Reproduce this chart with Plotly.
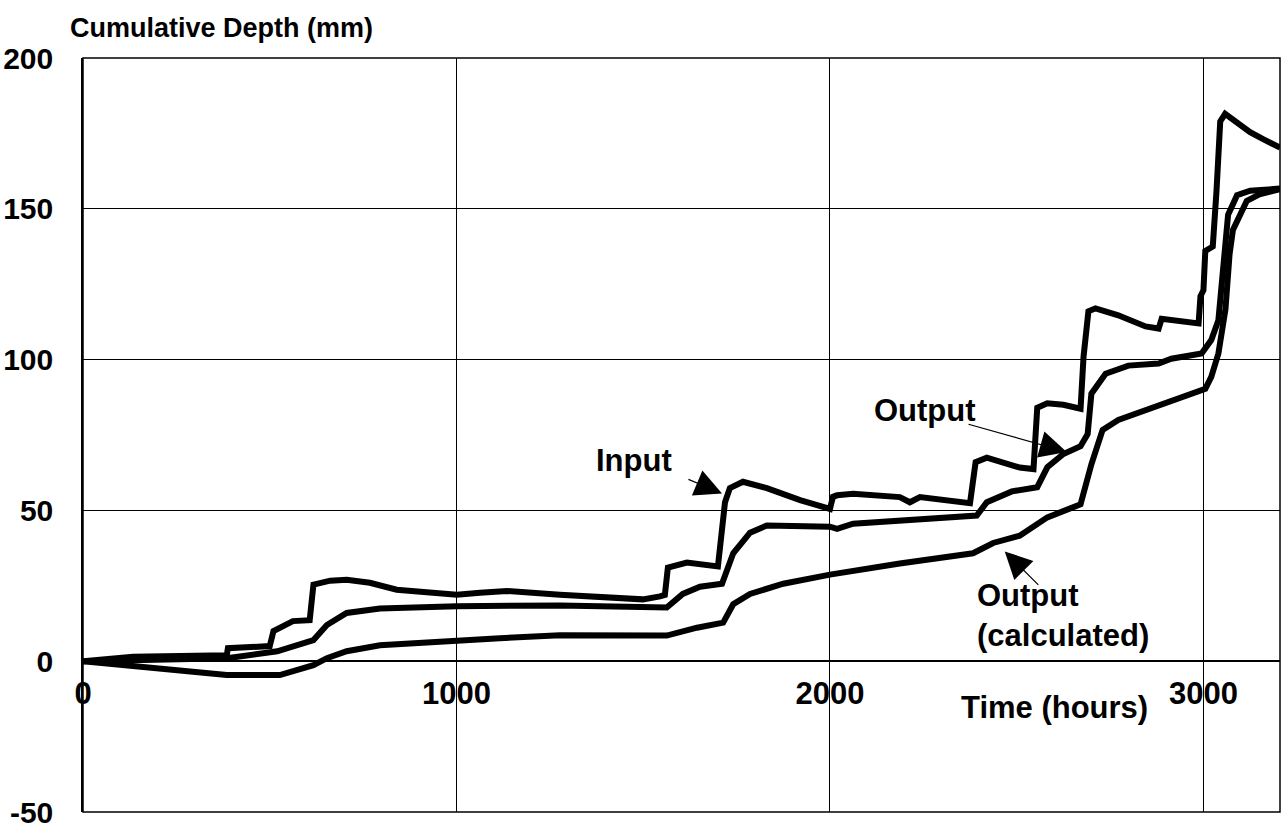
import plotly.graph_objects as go

# ---- data (hours, mm) ----
input_t = [0, 134, 385, 388, 500, 510, 562, 607, 617, 662, 706, 768, 840, 930, 1001, 1063,
           1116, 1135, 1277, 1499, 1545, 1558, 1566, 1617, 1700, 1719, 1732, 1767, 1831, 1920,
           2000, 2008, 2019, 2062, 2187, 2214, 2241, 2375, 2390, 2420, 2508, 2545, 2555, 2582,
           2625, 2671, 2679, 2692, 2711, 2772, 2845, 2880, 2888, 2987, 2992, 3000, 3005, 3025,
           3035, 3045, 3058, 3089, 3125, 3161, 3205]
input_mm = [0, 1.5, 2, 4.3, 5, 10, 13.3, 13.6, 25.4, 26.7, 27, 26, 23.7, 22.7, 22, 22.7,
            23.3, 23.3, 22, 20.5, 21.5, 22, 31, 32.7, 31.4, 52.7, 57.4, 59.5, 57.4, 53.4,
            50.5, 54.5, 55, 55.5, 54.4, 52.7, 54.4, 52.4, 66, 67.5, 64.2, 63.7, 84, 85.5,
            85, 83.7, 101, 116, 117, 114.7, 111, 110.3, 113.5, 112, 121, 123, 136, 137.5,
            156, 179, 181.5, 178.7, 175.4, 173, 170.3]

output_t = [0, 385, 520, 617, 653, 706, 795, 1001, 1277, 1563, 1606, 1652, 1711, 1741, 1786,
            1831, 2000, 2019, 2062, 2187, 2393, 2420, 2487, 2555, 2582, 2625, 2671, 2690, 2700,
            2738, 2799, 2880, 2914, 2995, 3021, 3040, 3050, 3066, 3090, 3125, 3205]
output_mm = [0, 1, 3.3, 7, 12, 16, 17.5, 18.2, 18.5, 17.8, 22.3, 24.7, 25.7, 35.8, 42.6,
             45, 44.6, 43.9, 45.6, 46.6, 48.3, 52.7, 56.3, 57.7, 64.3, 68.7, 71.3, 75.3, 88.7,
             95.3, 98, 98.7, 100.3, 102, 106.5, 113, 128, 148, 154.5, 156, 156.7]

calc_t = [0, 385, 527, 617, 653, 706, 795, 1001, 1116, 1277, 1563, 1644, 1714, 1741, 1786,
          1875, 2000, 2187, 2383, 2437, 2508, 2582, 2671, 2700, 2730, 2772, 2888, 3005, 3021,
          3040, 3059, 3070, 3079, 3100, 3116, 3150, 3205]
calc_mm = [0, -4.6, -4.6, -1.3, 1, 3.3, 5.3, 7, 7.6, 8.6, 8.5, 11.1, 12.8, 18.9, 22.3,
           25.7, 28.7, 32.4, 35.8, 39.2, 41.6, 47.7, 52, 65.3, 76.7, 80, 85.3, 90.3, 94.3,
           102, 116.7, 135, 143, 148, 152.6, 154.8, 156.5]

x_ticks = [0, 1000, 2000, 3000]
x_tick_text = ["0", "1000", "2000", "3000"]
y_ticks = [-50, 0, 50, 100, 150, 200]
y_tick_text = ["-50", "0", "50", "100", "150", "200"]

FONT = "Liberation Sans"
BOLD = dict(family=FONT, size=31, color="black", weight="bold")
YTICK_FONT = dict(family=FONT, size=30, color="black", weight="bold")
TITLE_FONT = dict(family=FONT, size=27, color="black", weight="bold")

W, H = 1287, 830

fig = go.Figure()
for name, xs, ys in [("Input", input_t, input_mm),
                     ("Output", output_t, output_mm),
                     ("Output (calculated)", calc_t, calc_mm)]:
    fig.add_trace(go.Scatter(x=xs, y=ys, mode="lines", name=name,
                             line=dict(color="black", width=6)))

fig.update_layout(
    width=W, height=H,
    margin=dict(l=83, r=7, t=58, b=18, autoexpand=False),
    paper_bgcolor="white", plot_bgcolor="white",
    showlegend=False,
    title=dict(text="Cumulative Depth (mm)", font=TITLE_FONT, x=70 / W, xanchor="left",
               xref="container", yref="container", y=1 - 28 / H, yanchor="middle",
               automargin=False),
    xaxis=dict(range=[0, 3205], tickvals=x_ticks, ticktext=x_tick_text, showgrid=True,
               gridcolor="black", gridwidth=1, zeroline=False, showline=False,
               anchor="free", position=0.2, automargin=False, ticklabeloverflow="allow",
               tickfont=BOLD, ticks="", ticklabelstandoff=11),
    yaxis=dict(range=[-50, 200], tickvals=y_ticks, ticktext=y_tick_text, showgrid=True,
               gridcolor="black", gridwidth=1, zeroline=True, zerolinecolor="black",
               zerolinewidth=2, showline=True, linecolor="black", linewidth=1.5,
               automargin=False, ticklabeloverflow="allow",
               tickfont=YTICK_FONT, ticks="", ticklabelstandoff=22),
    shapes=[dict(type="rect", xref="paper", yref="paper", x0=0, x1=1, y0=0, y1=1,
                 line=dict(color="black", width=1.5), layer="above")],
)

arrow = dict(showarrow=True, arrowhead=2, arrowsize=4.5, arrowwidth=1.2, arrowcolor="black",
             axref="x", ayref="y", text="")
fig.add_annotation(x=1711, y=55.6, ax=1617, ay=60.5, **arrow)
fig.add_annotation(x=2634, y=69.4, ax=2367, ay=78.7, **arrow)
fig.add_annotation(x=2468, y=36.4, ax=2562, ay=24.8, **arrow)

fig.add_annotation(x=1475, y=66.5, text="Input", showarrow=False, font=BOLD)
fig.add_annotation(x=2254, y=83, text="Output", showarrow=False, font=BOLD)
fig.add_annotation(x=2388, y=15, text="Output<br>(calculated)", showarrow=False, font=BOLD,
                   xanchor="left", align="left")
fig.add_annotation(x=2602, y=-15.5, text="Time (hours)", showarrow=False, font=BOLD)

# remove the browser's default 8px body margin so the figure sits at the page origin
fig.write_html("out.html", config={"displayModeBar": False},
               post_script="document.body.style.margin='0';")
